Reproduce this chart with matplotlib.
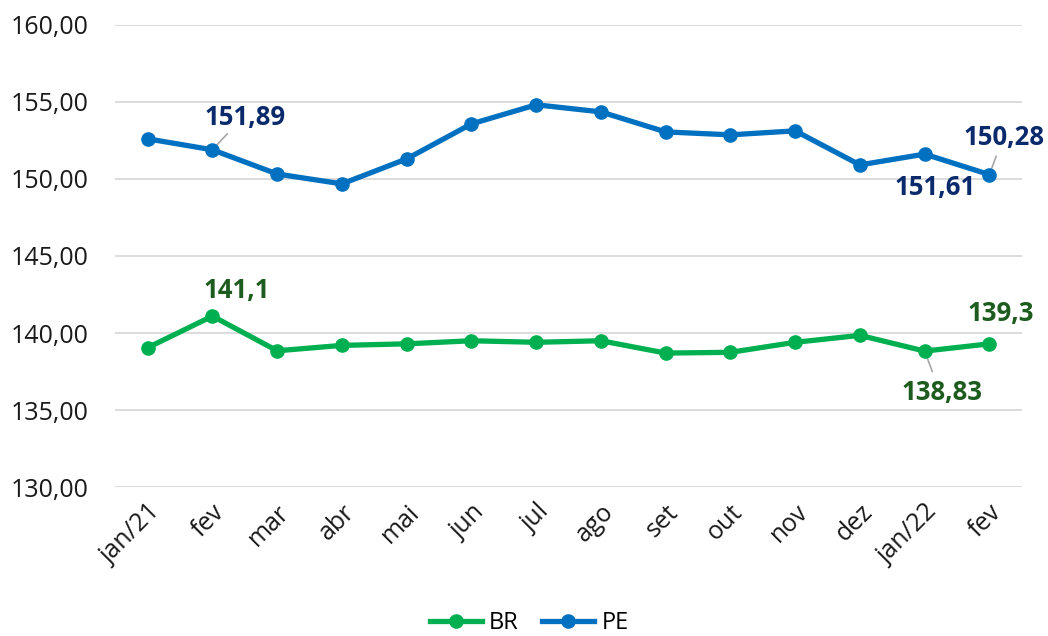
import matplotlib
matplotlib.use('Agg')
import matplotlib.pyplot as plt
from matplotlib.ticker import FuncFormatter

plt.rcParams['font.family'] = ['Open Sans', 'DejaVu Sans']

meses = ['jan/21', 'fev', 'mar', 'abr', 'mai', 'jun', 'jul', 'ago',
         'set', 'out', 'nov', 'dez', 'jan/22', 'fev']
br = [139.05, 141.1, 138.85, 139.2, 139.3, 139.5, 139.4, 139.5,
      138.7, 138.75, 139.4, 139.85, 138.83, 139.3]
pe = [152.6, 151.89, 150.32, 149.68, 151.3, 153.57, 154.81, 154.35,
      153.05, 152.86, 153.12, 150.91, 151.61, 150.28]

# rotulos: (indice, texto, deslocamento em pixels, linha guia)
rot_br = [(1, '141,1', (24, 26), False),
          (12, '138,83', (17, -41), True),
          (13, '139,3', (11, 30), False)]
rot_pe = [(1, '151,89', (33, 32), True),
          (12, '151,61', (10, -33), False),
          (13, '150,28', (15, 37), True)]

verde = '#00B050'
azul = '#0070C0'

fig = plt.figure(figsize=(10.48, 6.36), dpi=100)
ax = fig.add_axes([0.110, 0.234, 0.865, 0.727])
x = list(range(len(meses)))
ax.plot(x, br, color=verde, lw=3.8, marker='o', ms=9.5, label='BR', zorder=3)
ax.plot(x, pe, color=azul, lw=3.8, marker='o', ms=9.5, label='PE', zorder=3)

for serie, rots, cor in [(br, rot_br, '#1E5B1E'), (pe, rot_pe, '#0A2A6B')]:
    for i, txt, off, guia in rots:
        ax.annotate(txt, (i, serie[i]), xytext=off, textcoords='offset pixels',
                    ha='center', va='center', fontsize=18.5, fontweight='bold',
                    color=cor, zorder=4)
        if guia:
            ax.annotate('', (i, serie[i]), xytext=(off[0] * 0.45, off[1] * 0.5),
                        textcoords='offset pixels',
                        arrowprops=dict(arrowstyle='-', color='#A6A6A6', lw=1.2,
                                        shrinkA=0, shrinkB=3), zorder=2)

ax.set_xlim(-0.5, len(meses) - 0.5)
ax.set_ylim(130, 160)
ax.set_yticks(range(130, 161, 5))
ax.yaxis.set_major_formatter(FuncFormatter(lambda v, p: f'{v:.2f}'.replace('.', ',')))
ax.set_xticks(x)
ax.set_xticklabels(meses, rotation=45, ha='right', rotation_mode='anchor')
ax.tick_params(axis='both', length=0, labelsize=18, colors='#1a1a1a')
ax.tick_params(axis='x', pad=9)
ax.tick_params(axis='y', pad=19)
ax.grid(axis='y', color='#D9D9D9', lw=1.3)
ax.set_axisbelow(True)
for s in ax.spines.values():
    s.set_visible(False)

fig.legend(loc='center', bbox_to_anchor=(0.505, 0.02), ncol=2, frameon=False,
           fontsize=17, handlelength=2.2, handletextpad=0.3, columnspacing=1.0)

fig.savefig('out.png', dpi=100)
